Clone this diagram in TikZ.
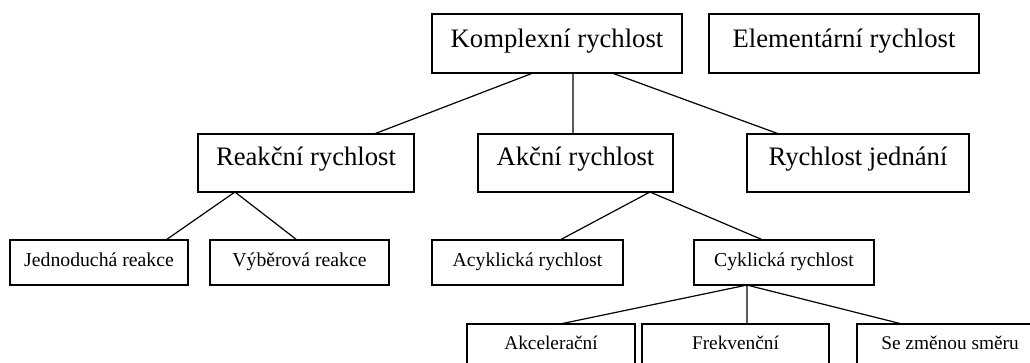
\documentclass[tikz,border=0pt]{standalone}
\usepackage{fontspec}
\setmainfont{Liberation Serif}
\usetikzlibrary{calc}
\tikzset{
  box/.style={draw, line width=0.9pt, inner sep=0pt, outer sep=0pt, align=center},
  bigbox/.style={box, font=\fontsize{20}{24}\selectfont},
  rowone/.style={bigbox, text height=24.75pt, text depth=19.5pt},
  rowtwo/.style={bigbox, text height=23.25pt, text depth=20.25pt},
  rowthree/.style={box, font=\fontsize{14.8}{18}\selectfont, text height=19.9pt, text depth=13.9pt},
  rowfour/.style={box, font=\fontsize{14.5}{18}\selectfont, text height=18.75pt, text depth=27pt},
  link/.style={line width=0.9pt},
}
\begin{document}
\begin{tikzpicture}[x=0.75pt, y=-0.75pt]
  \useasboundingbox (0,0) rectangle (1030,362);
  \clip (0,0) rectangle (1030,362);

  % top level
  \node[rowone, minimum width=187.5pt] (kompl) at (557,43.5) {Komplexní rychlost};
  \node[rowone, minimum width=202.5pt] (elem) at (844,43.5) {Elementární rychlost};

  % second level
  \node[rowtwo, minimum width=162pt] (reak) at (306,163) {Reakční rychlost};
  \node[rowtwo, minimum width=146.25pt] (akc) at (575.5,163) {Akční rychlost};
  \node[rowtwo, minimum width=166.5pt] (jedn) at (858,163) {Rychlost jednání};

  % third level
  \node[rowthree, minimum width=133.5pt] (jednod) at (99,262.5) {Jednoduchá reakce};
  \node[rowthree, minimum width=134.25pt] (vyber) at (299.5,262.5) {Výběrová reakce};
  \node[rowthree, minimum width=143.25pt] (acyk) at (527.5,262.5) {Acyklická rychlost};
  \node[rowthree, minimum width=135pt] (cykl) at (784,262.5) {Cyklická rychlost};

  % fourth level
  \node[rowfour, minimum width=126pt] (akcel) at (551,354.5) {Akcelerační};
  \node[rowfour, minimum width=140.25pt] (frek) at (735.5,354.5) {Frekvenční};
  \node[rowfour, minimum width=139.5pt] (smer) at (950,354.5) {Se změnou směru};

  % connectors
  \draw[link] ($(kompl.south west)!.404!(kompl.south east)$) -- ($(reak.north west)!.815!(reak.north east)$);
  \draw[link] ($(kompl.south west)!.564!(kompl.south east)$) -- ($(akc.north west)!.487!(akc.north east)$);
  \draw[link] ($(kompl.south west)!.72!(kompl.south east)$) -- ($(jedn.north west)!.144!(jedn.north east)$);

  \draw[link] ($(reak.south west)!.171!(reak.south east)$) -- ($(jednod.north west)!.876!(jednod.north east)$);
  \draw[link] ($(reak.south west)!.171!(reak.south east)$) -- ($(vyber.north west)!.486!(vyber.north east)$);

  \draw[link] ($(akc.south west)!.882!(akc.south east)$) -- ($(acyk.north west)!.670!(acyk.north east)$);
  \draw[link] ($(akc.south west)!.882!(akc.south east)$) -- ($(cykl.north west)!.383!(cykl.north east)$);

  \draw[link] ($(cykl.south west)!.294!(cykl.south east)$) -- ($(akcel.north west)!.554!(akcel.north east)$);
  \draw[link] ($(cykl.south west)!.294!(cykl.south east)$) -- ($(frek.north west)!.561!(frek.north east)$);
  \draw[link] ($(cykl.south west)!.294!(cykl.south east)$) -- ($(smer.north west)!.242!(smer.north east)$);
\end{tikzpicture}
\end{document}
